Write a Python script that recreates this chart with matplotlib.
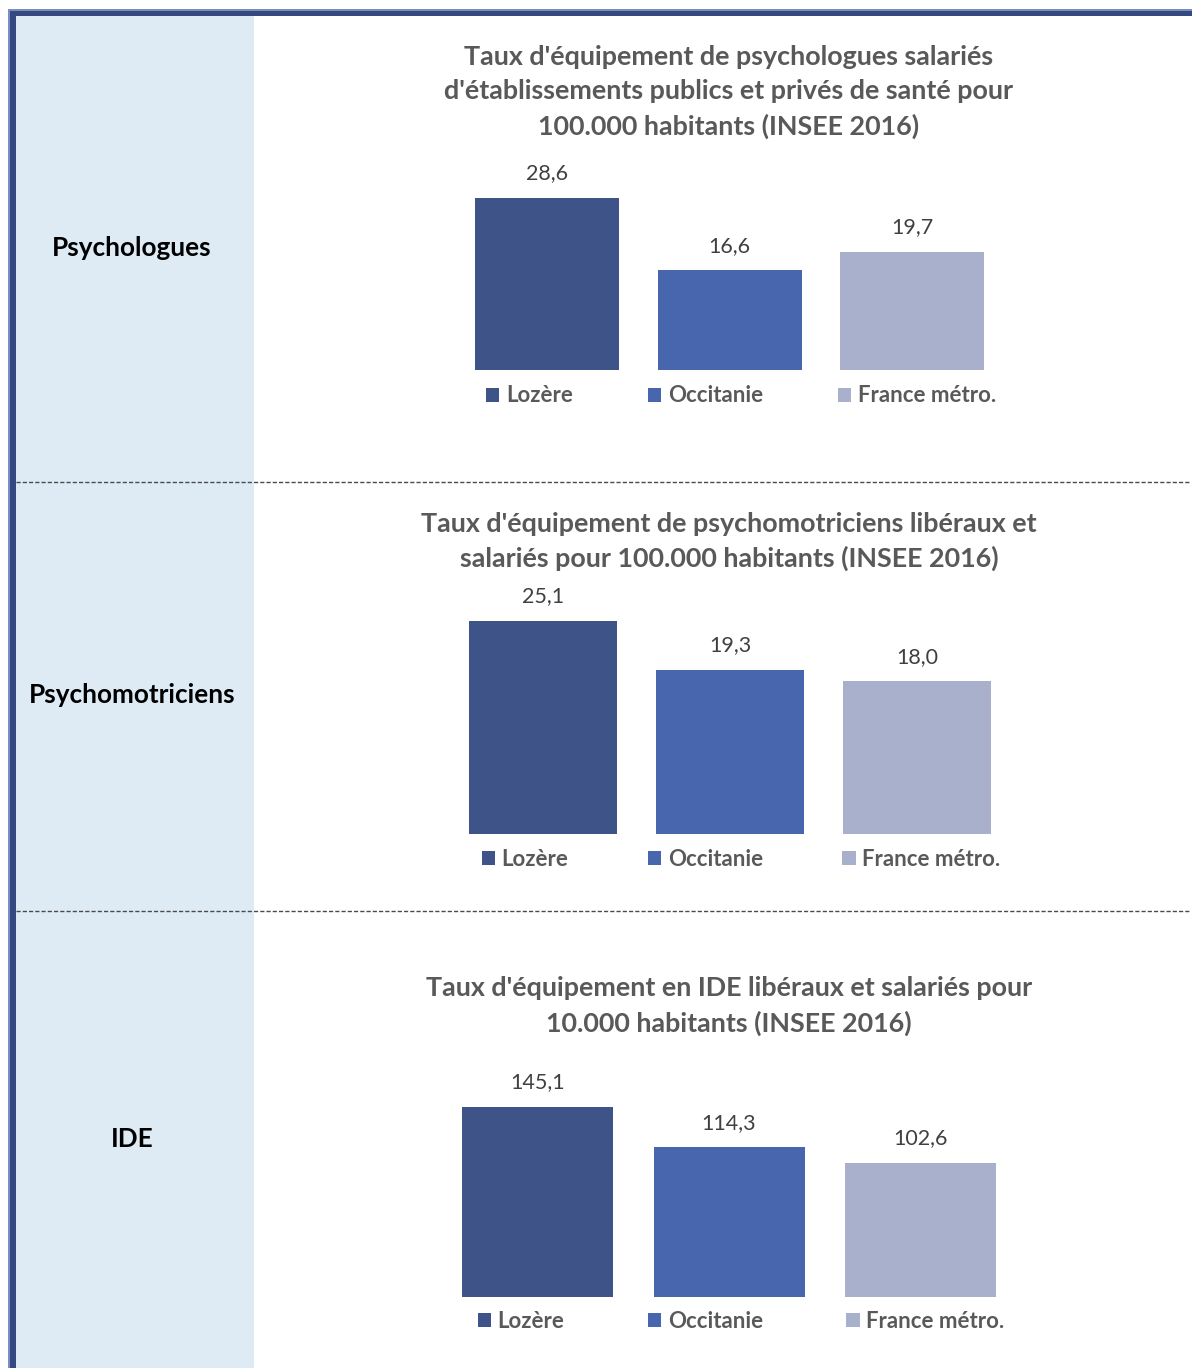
import matplotlib
matplotlib.use("Agg")
import matplotlib.pyplot as plt
from matplotlib.patches import Rectangle, Patch
from matplotlib.lines import Line2D

plt.rcParams['font.family'] = ['Lato', 'DejaVu Sans']

# ---------------- data ----------------
categories = ["Lozère", "Occitanie", "France métro."]
colors = ["#3e5489", "#4866ad", "#a9b0cc"]

row_labels = ["Psychologues", "Psychomotriciens", "IDE"]
titles = [
    "Taux d'équipement de psychologues salariés\nd'établissements publics et privés de santé pour\n100.000 habitants (INSEE 2016)",
    "Taux d'équipement de psychomotriciens libéraux et\nsalariés pour 100.000 habitants (INSEE 2016)",
    "Taux d'équipement en IDE libéraux et salariés pour\n10.000 habitants (INSEE 2016)",
]
psychologues = [28.6, 16.6, 19.7]
psychomotriciens = [25.1, 19.3, 18.0]
ide = [145.1, 114.3, 102.6]
series = [psychologues, psychomotriciens, ide]

# ---------------- layout (pixels) ----------------
W, H = 1192, 1368
fig = plt.figure(figsize=(W / 100, H / 100), dpi=100)

def fx(x):
    return x / W

def fy(y):
    return 1 - y / H

# background left band
fig.add_artist(Rectangle((fx(16), fy(H)), fx(254) - fx(16), fy(16) - fy(H),
                         transform=fig.transFigure, facecolor="#deebf5", edgecolor="none", zorder=0))

panels = [
    dict(c0=547, sp=182.5, bw=144, base=370, scale=6.01, title_y=92, leg_y=396, colsp=3.37, label_y=248),
    dict(c0=543, sp=187.0, bw=148, base=834, scale=8.49, title_y=541.5, leg_y=859, colsp=3.57, label_y=695),
    dict(c0=537.5, sp=191.5, bw=151, base=1297, scale=1.31, title_y=1006, leg_y=1321, colsp=3.75, label_y=1139),
]

for p, vals, title, rlab in zip(panels, series, titles, row_labels):
    left = p["c0"] - p["sp"]
    width = 4 * p["sp"]
    top_px = p["base"] - 230
    ax = fig.add_axes([fx(left), fy(p["base"]), width / W, (p["base"] - top_px) / H])
    ax.set_xlim(-1, 3)
    ax.set_ylim(0, (p["base"] - top_px) / p["scale"])
    ax.axis("off")
    bars = ax.bar(range(3), vals, width=p["bw"] / p["sp"], color=colors)
    ax.bar_label(bars, labels=[f"{v:.1f}".replace(".", ",") for v in vals],
                 padding=10.5, fontsize=15.5, color="#404040")
    fig.text(fx(729), fy(p["title_y"]), title, ha="center", va="center",
             fontsize=19.4, fontweight="bold", color="#595959", linespacing=1.49)
    handles = [Patch(facecolor=c, edgecolor="none") for c in colors]
    fig.legend(handles, categories, loc="center", bbox_to_anchor=(fx(741), fy(p["leg_y"])),
               ncol=3, frameon=False, handlelength=0.6, handleheight=0.6,
               handletextpad=0.3, columnspacing=p["colsp"], borderpad=0, borderaxespad=0,
               prop={"weight": "bold", "size": 16}, labelcolor="#595959")
    fig.text(fx(132), fy(p["label_y"]), rlab, ha="center", va="center",
             fontsize=18.8, fontweight="bold", color="#000000")

# dashed separators
for y in (482, 911):
    fig.add_artist(Line2D([fx(16), fx(1190)], [fy(y), fy(y)], transform=fig.transFigure,
                          color="#4a4a4a", lw=1.0, linestyle=(0, (3, 1.5)), zorder=5))

# clip bottom of last legend (as in the reference)
fig.add_artist(Rectangle((fx(254), 0), 1 - fx(254), fy(1328), transform=fig.transFigure,
                         facecolor="white", edgecolor="none", zorder=10))

# borders
fig.add_artist(Rectangle((fx(8), 0), fx(10) - fx(8), fy(9), transform=fig.transFigure,
                         facecolor="#7b8ec4", edgecolor="none", zorder=11))
fig.add_artist(Rectangle((fx(8), fy(11)), 1 - fx(8), fy(9) - fy(11), transform=fig.transFigure,
                         facecolor="#7b8ec4", edgecolor="none", zorder=11))
fig.add_artist(Rectangle((fx(10), 0), fx(16) - fx(10), fy(11), transform=fig.transFigure,
                         facecolor="#34497f", edgecolor="none", zorder=12))
fig.add_artist(Rectangle((fx(10), fy(16)), 1 - fx(10), fy(11) - fy(16), transform=fig.transFigure,
                         facecolor="#34497f", edgecolor="none", zorder=12))

fig.savefig("out.png", dpi=100, facecolor="white")
